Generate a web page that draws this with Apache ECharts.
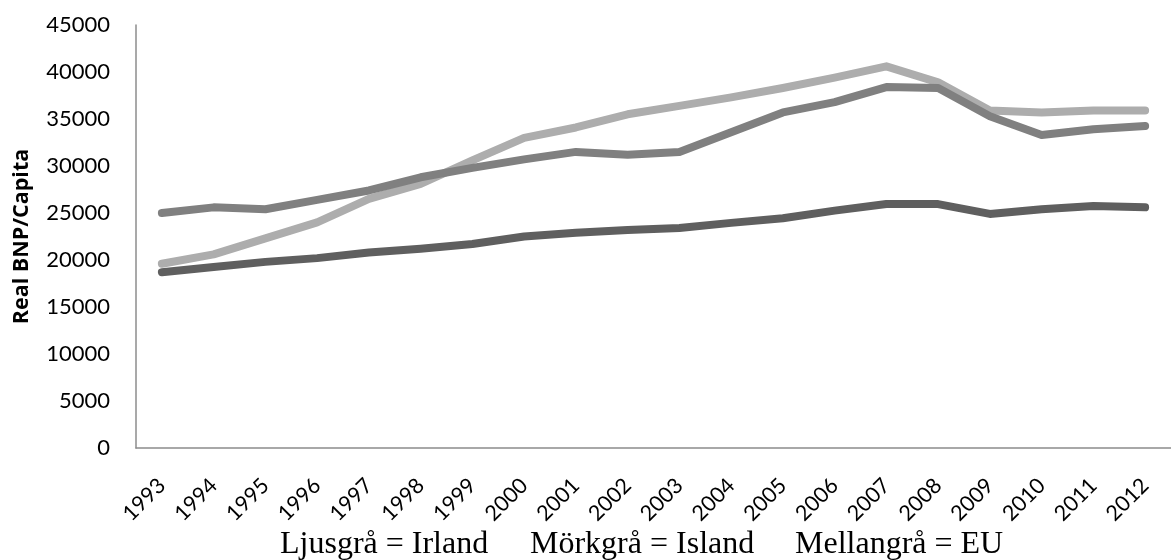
<!DOCTYPE html>
<html>
<head>
<meta charset="utf-8">
<script src="https://cdn.jsdelivr.net/npm/echarts@6/dist/echarts.min.js"></script>
<style>html,body{margin:0;padding:0;background:#fff;}#c{width:1171px;height:560px;}</style>
</head>
<body>
<div id="c"></div>
<script>
const years = ['1993','1994','1995','1996','1997','1998','1999','2000','2001','2002','2003','2004','2005','2006','2007','2008','2009','2010','2011','2012'];
const irland = [19600,20600,22300,24000,26500,28100,30600,33000,34100,35500,36400,37300,38300,39400,40600,38900,35900,35700,35900,35900];
const mellangra = [25000,25600,25400,26400,27400,28800,29800,30700,31500,31200,31500,33600,35700,36800,38400,38300,35300,33300,33900,34250];
const morkgra = [18700,19250,19800,20200,20800,21200,21700,22500,22900,23200,23400,23950,24450,25250,25950,25950,24900,25400,25750,25600];
const yTicks = {min:0, max:45000, interval:5000};
const captionParts = ['Ljusgrå = Irland', 'Mörkgrå = Island', 'Mellangrå = EU'];
const captionLeft = [280, 530, 795];

const chart = echarts.init(document.getElementById('c'), null, {renderer:'canvas'});
const lineStyleBase = {width:8, cap:'round', join:'round'};
chart.setOption({
  animation:false,
  backgroundColor:'#ffffff',
  grid:{left:136, top:25, bottom:112, right:-9, containLabel:false},
  xAxis:{
    type:'category', data:years, boundaryGap:true,
    axisLine:{show:true, lineStyle:{color:'#8c8c8c', width:1.5}},
    axisTick:{show:false},
    axisLabel:{rotate:45, interval:0, color:'#000', fontFamily:'Lato', fontSize:21.5, margin:34}
  },
  yAxis:{
    type:'value', min:yTicks.min, max:yTicks.max, interval:yTicks.interval,
    name:'Real BNP/Capita', nameLocation:'middle', nameGap:103, nameRotate:90,
    nameTextStyle:{color:'#000', fontFamily:'Open Sans', fontWeight:'bold', fontSize:21.5},
    axisLine:{show:true, lineStyle:{color:'#8c8c8c', width:1.5}},
    axisTick:{show:false},
    splitLine:{show:false},
    axisLabel:{color:'#000', fontFamily:'Lato', fontSize:22, margin:26, formatter:function(v){return String(v);}}
  },
  series:[
    {name:'Irland', type:'line', data:irland, symbol:'none', lineStyle:Object.assign({color:'#adadad'}, lineStyleBase), z:2},
    {name:'EU', type:'line', data:mellangra, symbol:'none', lineStyle:Object.assign({color:'#808080'}, lineStyleBase), z:3},
    {name:'Island', type:'line', data:morkgra, symbol:'none', lineStyle:Object.assign({color:'#5f5f5f'}, lineStyleBase), z:4}
  ],
  graphic: captionParts.map(function(t, i){
    return {type:'text', left:captionLeft[i], top:529,
      style:{text:t, fill:'#000', font:'32px "Liberation Serif"'}};
  })
});
</script>
</body>
</html>
